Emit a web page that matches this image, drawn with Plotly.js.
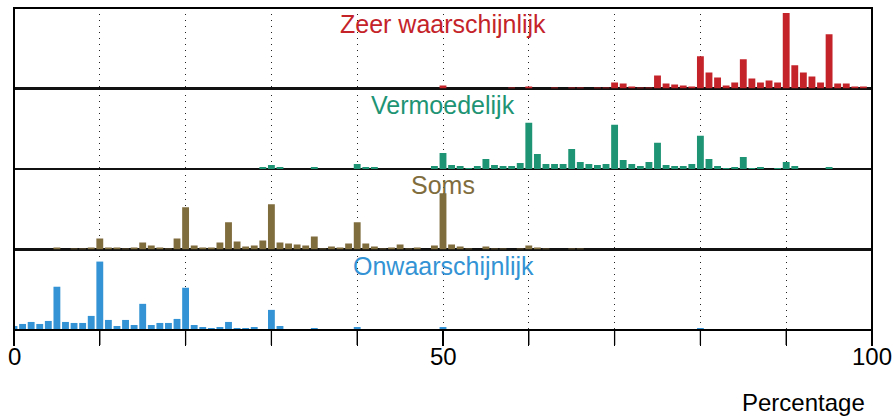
<!DOCTYPE html>
<html>
<head>
<meta charset="utf-8">
<script src="https://cdn.plot.ly/plotly-3.0.1.min.js"></script>
<style>html,body{margin:0;padding:0;background:#fff;}#chart{width:894px;height:417px;}</style>
</head>
<body>
<div id="chart"></div>
<script>
// Percentage bins (0..100)
const percentages = Array.from({length: 101}, (_, i) => i);

// Panel labels and colours
const panelNames = ["Zeer waarschijnlijk", "Vermoedelijk", "Soms", "Onwaarschijnlijk"];
const panelColors = ["#C4232A", "#1E9474", "#806D3E", "#3393D4"];

// Tick positions and labels on the percentage axis
const tickValues = [0, 10, 20, 30, 40, 50, 60, 70, 80, 90, 100];
const labelValues = [0, 50, 100];
const labelTexts = ["0", "50", "100"];

// Frequencies (sparse: bin -> height)
const zeerWaarschijnlijk = {50:3, 58:1, 60:2, 63:1, 65:1, 66:1, 68:1, 69:1, 70:6, 71:5, 72:2, 73:1, 74:1,
  75:13, 76:5, 77:4, 78:3, 79:2, 80:32, 81:16, 82:11, 83:3, 84:6, 85:29, 86:10, 87:6, 88:8, 89:6,
  90:75, 91:23, 92:16, 93:12, 94:6, 95:54, 96:5, 97:5, 98:2, 99:2};
const vermoedelijk = {29:2, 30:4, 31:2, 35:2, 40:5, 41:2, 42:2, 49:3, 50:16, 51:4, 52:3, 53:1, 54:3,
  55:10, 56:4, 57:3, 58:3, 59:6, 60:46, 61:15, 62:5, 63:5, 64:5, 65:20, 66:7, 67:5, 68:4, 69:5,
  70:44, 71:9, 72:5, 73:3, 74:7, 75:26, 76:4, 77:3, 78:3, 79:5, 80:33, 81:10, 82:3, 83:1, 84:2,
  85:12, 86:1, 87:2, 89:1, 90:7, 91:3, 95:2};
const soms = {5:2, 7:1, 8:1, 9:2, 10:11, 11:2, 12:2, 13:1, 14:2, 15:7, 16:4, 17:2, 18:1, 19:11, 20:42,
  21:4, 22:2, 23:2, 24:7, 25:27, 26:8, 27:3, 28:4, 29:9, 30:45, 31:7, 32:6, 33:5, 34:4, 35:13, 36:1,
  37:3, 38:2, 39:6, 40:27, 41:6, 42:3, 43:1, 44:2, 45:5, 46:1, 47:2, 49:4, 50:56, 51:5, 52:3, 53:1,
  55:3, 56:1, 57:1, 59:1, 60:4, 61:2, 62:1, 65:1, 66:1};
const onwaarschijnlijk = {0:4, 1:6, 2:8, 3:6, 4:9, 5:43, 6:8, 7:7, 8:7, 9:14, 10:68, 11:10, 12:4, 13:10,
  14:5, 15:26, 16:5, 17:7, 18:7, 19:11, 20:42, 21:5, 22:3, 23:2, 24:3, 25:8, 26:2, 27:2, 28:3, 29:1,
  30:20, 31:4, 33:1, 35:2, 36:1, 39:1, 40:3, 41:1, 50:3, 52:0.5, 73:0.5, 75:0.5, 80:2, 81:0.5, 85:0.5,
  89:0.5, 90:0.5};

const panelData = [zeerWaarschijnlijk, vermoedelijk, soms, onwaarschijnlijk];
const font = '"Liberation Sans", Arial, Helvetica, sans-serif';

// panel i (0 = top) -> axis index (1 = bottom)
const traces = panelData.map((d, i) => {
  const k = 4 - i;
  return {
    type: 'bar',
    x: percentages,
    y: percentages.map(p => d[p] || 0),
    width: 0.8,
    marker: {color: panelColors[i], line: {width: 0}},
    xaxis: k === 1 ? 'x' : 'x' + k,
    yaxis: k === 1 ? 'y' : 'y' + k,
    hoverinfo: 'x+y'
  };
});

const layout = {
  width: 894, height: 417,
  margin: {l: 14, r: 22, t: 8, b: 87},
  paper_bgcolor: '#fff', plot_bgcolor: '#fff',
  showlegend: false,
  font: {family: font, color: '#000'},
  shapes: [{type: 'rect', xref: 'paper', yref: 'paper', x0: 0, x1: 1, y0: 0, y1: 1,
            line: {color: '#000', width: 2}, layer: 'above'}],
  annotations: []
};

for (let k = 1; k <= 4; k++) {
  const xa = {
    range: [0, 100], anchor: k === 1 ? 'y' : 'y' + k,
    tickvals: tickValues, ticktext: tickValues.map(() => ''),
    showgrid: true, gridcolor: '#222', gridwidth: 1, griddash: '1px,5px',
    zeroline: false, showline: true, mirror: true, linecolor: '#111', linewidth: 1.3,
    fixedrange: true
  };
  if (k === 1) {
    Object.assign(xa, {ticks: 'outside', ticklen: 15, tickwidth: 1.3, tickcolor: '#000',
      showticklabels: true, tickfont: {size: 24, family: font, color: '#000'},
      ticklabelstandoff: 18});
  } else {
    Object.assign(xa, {ticks: '', showticklabels: false, matches: 'x'});
  }
  layout[k === 1 ? 'xaxis' : 'xaxis' + k] = xa;
  layout[k === 1 ? 'yaxis' : 'yaxis' + k] = {
    domain: [(k - 1) / 4, k / 4], range: [0, 80],
    anchor: k === 1 ? 'x' : 'x' + k,
    showgrid: false, zeroline: false, showticklabels: false, ticks: '',
    showline: true, mirror: true, linecolor: '#111', linewidth: 1.3, fixedrange: true
  };
}

// tick marks below the bottom panel, placed on the x scale (15 px long)
tickValues.forEach(v => {
  layout.shapes.push({
    type: 'line', xref: 'x', yref: 'paper', x0: v, x1: v,
    ysizemode: 'pixel', yanchor: 0, y0: 0, y1: -15,
    line: {color: '#000', width: 1.3}, layer: 'above'
  });
});

// tick labels placed on the x scale just under the tick marks
labelValues.forEach((v, i) => {
  layout.annotations.push({
    text: labelTexts[i], xref: 'x', yref: 'paper', x: v, y: 0,
    xanchor: 'center', yanchor: 'top', yshift: -11, showarrow: false,
    font: {size: 24, family: font, color: '#000'}
  });
});

panelNames.forEach((name, i) => {
  layout.annotations.push({
    text: name, xref: 'paper', yref: 'paper', x: 0.5, y: 1 - i / 4,
    xanchor: 'center', yanchor: 'top', yshift: 0, showarrow: false,
    font: {size: 25, family: font, color: panelColors[i]}
  });
});

layout.annotations.push({
  text: 'Percentage', xref: 'paper', yref: 'paper', x: 1, y: 0,
  xanchor: 'right', yanchor: 'top', xshift: -5, yshift: -57, showarrow: false,
  font: {size: 24, family: font, color: '#000'}
});

Plotly.newPlot('chart', traces, layout, {displayModeBar: false, staticPlot: true});
</script>
</body>
</html>
